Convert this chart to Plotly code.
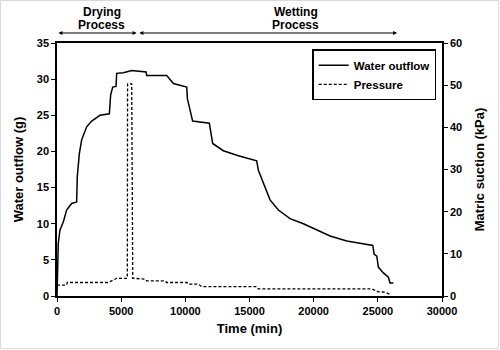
import plotly.graph_objects as go

# Water outflow (g) vs time (min)
t_water = [0, 100, 230, 500, 750, 1140, 1530, 1580, 1740, 1920, 2310, 2700, 3350, 4080, 4180, 4340,
           4600, 4650, 5170, 5820, 6940, 6990, 8550, 9070, 10110, 10160, 10570, 11870, 12130, 12960,
           14130, 15040, 15560, 15690, 16080, 16600, 17250, 18160, 19200, 20240, 21280, 22580, 23870,
           24610, 24710, 24920, 25040, 25430, 25820, 25950, 26210]
water = [0, 7.3, 9.1, 10.3, 11.9, 12.8, 13.0, 16.5, 19.7, 21.6, 23.4, 24.2, 25.0, 25.2, 27.8, 28.9,
         29.0, 30.8, 30.9, 31.2, 31.0, 30.5, 30.5, 29.4, 28.9, 27.3, 24.2, 23.9, 21.1, 20.1,
         19.4, 18.9, 18.7, 17.4, 15.6, 13.3, 11.9, 10.7, 10.0, 9.1, 8.3, 7.6, 7.2,
         7.0, 5.8, 5.5, 4.0, 3.2, 2.6, 1.8, 1.8]

# Pressure / matric suction (kPa) vs time (min)
t_pres = [0, 750, 800, 4000, 4650, 5480, 5500, 5820, 5900, 5950, 6860, 6990, 8420, 8550, 10130, 10230,
          11010, 11280, 15560, 15690, 24530, 25040, 25560, 25950]
pres = [2.6, 2.6, 3.2, 3.2, 4.2, 4.2, 50.3, 50.3, 4.2, 4.2, 4.0, 3.6, 3.6, 3.2, 3.2, 2.8,
        2.8, 2.2, 2.2, 1.7, 1.7, 1.0, 0.9, 0.4]

x_ticks = [0, 5000, 10000, 15000, 20000, 25000, 30000]
y_ticks = [0, 5, 10, 15, 20, 25, 30, 35]
y2_ticks = [0, 10, 20, 30, 40, 50, 60]

FONT = "Liberation Sans"

def bold(vals):
    return ["<b>%d</b>" % v for v in vals]

fig = go.Figure()
fig.add_trace(go.Scatter(x=t_water, y=water, mode="lines", name="<b>Water outflow</b>",
                         line=dict(color="black", width=1.5)))
fig.add_trace(go.Scatter(x=t_pres, y=pres, mode="lines", name="<b>Pressure</b>", yaxis="y2",
                         line=dict(color="black", width=1.3, dash="3px,2px")))

axis_common = dict(showline=True, linecolor="black", linewidth=1.5, ticks="outside", ticklen=4,
                   tickcolor="black", tickwidth=1, showgrid=False, zeroline=False,
                   tickfont=dict(family=FONT, size=11, color="black", weight="bold"))

fig.update_layout(
    width=500, height=350,
    margin=dict(l=57, r=58, t=43, b=54),
    paper_bgcolor="white", plot_bgcolor="white",
    showlegend=True,
    legend=dict(x=0.985, y=0.975, xanchor="right", yanchor="top",
                bordercolor="black", borderwidth=1.5, bgcolor="white",
                font=dict(family=FONT, size=11.5, color="black", weight="bold"),
                itemwidth=30, tracegroupgap=4),
    xaxis=dict(range=[0, 30000], tickvals=x_ticks, ticktext=bold(x_ticks), mirror=True,
               title=dict(text="<b>Time (min)</b>", font=dict(family=FONT, size=13, color="black"), standoff=8),
               **axis_common),
    yaxis=dict(range=[0, 35], tickvals=y_ticks, ticktext=bold(y_ticks),
               title=dict(text="<b>Water outflow (g)</b>", font=dict(family=FONT, size=13, color="black"), standoff=10),
               **axis_common),
    yaxis2=dict(range=[0, 60], tickvals=y2_ticks, ticktext=bold(y2_ticks), overlaying="y", side="right",
                title=dict(text="<b>Matric suction (kPa)</b>", font=dict(family=FONT, size=13, color="black"), standoff=14),
                **axis_common),
)

# Process annotations with double-headed arrows
arrow_y = (296 - 33) / 253
for (x0, x1, line1, line2, xc) in [(0, 6200, "Drying", "Process", 3500),
                                    (6300, 26500, "Wetting", "Process", 18600)]:
    fig.add_annotation(x=x1, y=arrow_y, xref="x", yref="y domain", ax=x0, ay=arrow_y,
                       axref="x", ayref="y domain", text="", showarrow=True,
                       arrowhead=2, arrowside="end+start", arrowsize=0.8, arrowwidth=1, arrowcolor="black")
    for txt, py in [(line1, 11.5), (line2, 25)]:
        fig.add_annotation(x=xc, y=(296 - py) / 253, xref="x", yref="y domain",
                           text="<b>" + txt + "</b>", showarrow=False, yanchor="middle",
                           font=dict(family=FONT, size=12, color="black"))

# Light outer border
fig.add_shape(type="rect", xref="paper", yref="paper",
              x0=(0.5 - 57) / 385, x1=(498.5 - 57) / 385,
              y0=(296 - 348.5) / 253, y1=(296 - 0.5) / 253,
              line=dict(color="#d9d9d9", width=1), layer="below")

fig.write_html("out.html")
